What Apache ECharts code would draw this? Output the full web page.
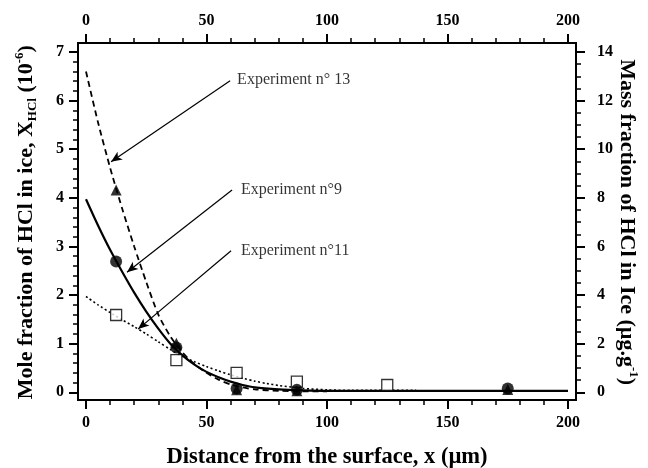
<!DOCTYPE html>
<html>
<head>
<meta charset="utf-8">
<script src="https://cdn.jsdelivr.net/npm/echarts@6/dist/echarts.min.js"></script>
<style>
html,body{margin:0;padding:0;background:#fff;}
#chart{width:648px;height:468px;}
</style>
</head>
<body>
<div id="chart"></div>
<script>
// ---- data ----
const xTickLabels = [0, 50, 100, 150, 200];
const yLeftTicks = [0, 1, 2, 3, 4, 5, 6, 7];
const yRightTicks = [0, 2, 4, 6, 8, 10, 12, 14];

// measured points: [distance µm, mole fraction 1e-6]
const exp9Points  = [[12.5, 2.69], [37.5, 0.92], [62.5, 0.08], [87.5, 0.05], [175, 0.08]];
const exp13Points = [[12.5, 4.16], [37.5, 1.01], [62.5, 0.05], [87.5, 0.03], [175, 0.06]];
const exp11Points = [[12.5, 1.59], [37.5, 0.66], [62.5, 0.40], [87.5, 0.22], [125, 0.15]];

// fitted curves
const exp9CurveX  = [0, 5, 10, 15, 20, 25, 30, 35, 40, 45, 50, 55, 60, 65, 70, 80, 90, 100, 125, 150, 175, 200];
const exp9CurveY  = [3.97, 3.43, 2.93, 2.48, 2.05, 1.66, 1.31, 1.00, 0.76, 0.57, 0.42, 0.31, 0.22, 0.15, 0.10, 0.06, 0.04, 0.03, 0.03, 0.03, 0.03, 0.03];
const exp13CurveX = [0, 5, 10, 15, 20, 25, 30, 35, 40, 45, 50, 55, 60, 65, 70, 80, 90, 100];
const exp13CurveY = [6.60, 5.55, 4.62, 3.78, 3.00, 2.27, 1.60, 1.15, 0.82, 0.58, 0.40, 0.26, 0.16, 0.10, 0.06, 0.03, 0.02, 0.02];
const exp11CurveX = [0, 5, 10, 15, 20, 25, 30, 35, 40, 45, 50, 55, 60, 65, 70, 75, 80, 85, 90, 100, 110, 125, 137];
const exp11CurveY = [1.97, 1.80, 1.64, 1.49, 1.35, 1.20, 1.04, 0.88, 0.74, 0.63, 0.53, 0.44, 0.36, 0.29, 0.23, 0.18, 0.14, 0.11, 0.08, 0.05, 0.04, 0.04, 0.04];

// annotations (data coordinates)
const noteTexts  = ['Experiment n° 13', 'Experiment n°9', 'Experiment n°11'];
const noteTextAt = [[62.7, 6.43], [64.3, 4.16], [64.3, 2.91]];
const arrowFrom  = [[59.8, 6.41], [60.6, 4.16], [60.2, 2.91]];
const arrowTo    = [[10.4, 4.74], [17.0, 2.47], [21.6, 1.30]];

const zip = (xs, ys) => xs.map((x, i) => [x, ys[i]]);

const FONT = "'Liberation Serif', 'Times New Roman', serif";
const chart = echarts.init(document.getElementById('chart'), null, {renderer: 'canvas'});

const tickLabelStyle = {color: '#000', fontFamily: FONT, fontWeight: 'bold', fontSize: 16};

const option = {
  backgroundColor: '#fff',
  animation: false,
  grid: [
    {left: 78, top: 43, width: 498, height: 357, show: true, borderColor: '#000', borderWidth: 2, backgroundColor: 'transparent', outerBoundsMode: 'none', containLabel: false},
    {left: 86, top: 43, width: 482, height: 357, outerBoundsMode: 'none', containLabel: false},
    {left: 78, top: 52, width: 498, height: 340.3, outerBoundsMode: 'none', containLabel: false},
    {left: 86, top: 52, width: 482, height: 340.3, outerBoundsMode: 'none', containLabel: false}
  ],
  xAxis: [
    {gridIndex: 0, type: 'value', show: false, min: 0, max: 1},
    {gridIndex: 1, type: 'value', position: 'bottom', min: 0, max: 200, interval: 50,
      axisLine: {show: false}, splitLine: {show: false},
      axisTick: {show: true, length: 9, lineStyle: {color: '#000', width: 2}},
      minorTick: {show: true, splitNumber: 5, length: 5, lineStyle: {color: '#000', width: 1.5}},
      axisLabel: Object.assign({margin: 15, formatter: v => xTickLabels.includes(v) ? String(v) : ''}, tickLabelStyle),
      name: 'Distance from the surface, x (µm)', nameLocation: 'middle', nameGap: 46, nameMoveOverlap: false,
      nameTextStyle: {color: '#000', fontFamily: FONT, fontWeight: 'bold', fontSize: 22.5}
    },
    {gridIndex: 1, type: 'value', position: 'top', min: 0, max: 200, interval: 50,
      axisLine: {show: false}, splitLine: {show: false},
      axisTick: {show: true, length: 9, lineStyle: {color: '#000', width: 2}},
      minorTick: {show: true, splitNumber: 5, length: 5, lineStyle: {color: '#000', width: 1.5}},
      axisLabel: Object.assign({margin: 14, formatter: v => xTickLabels.includes(v) ? String(v) : ''}, tickLabelStyle)
    },
    {gridIndex: 2, type: 'value', show: false, min: 0, max: 1},
    {gridIndex: 3, type: 'value', show: false, min: 0, max: 200}
  ],
  yAxis: [
    {gridIndex: 0, type: 'value', show: false, min: 0, max: 1},
    {gridIndex: 1, type: 'value', show: false, min: 0, max: 1},
    {gridIndex: 2, type: 'value', position: 'left', min: 0, max: 7, interval: 1,
      axisLine: {show: false}, splitLine: {show: false},
      axisTick: {show: true, length: 9, lineStyle: {color: '#000', width: 2}},
      minorTick: {show: true, splitNumber: 5, length: 5, lineStyle: {color: '#000', width: 1.5}},
      axisLabel: Object.assign({margin: 14, formatter: v => yLeftTicks.includes(v) ? String(v) : ''}, tickLabelStyle),
      name: 'Mole fraction of HCl in ice, X{sub|HCl} (10{sup|-6})', nameLocation: 'middle', nameGap: 39, nameRotate: 90, nameMoveOverlap: false,
      nameTextStyle: {color: '#000', fontFamily: FONT, fontWeight: 'bold', fontSize: 22, lineHeight: 26,
        rich: {
          sub: {fontFamily: FONT, fontWeight: 'bold', fontSize: 13, lineHeight: 13, verticalAlign: 'bottom', color: '#000'},
          sup: {fontFamily: FONT, fontWeight: 'bold', fontSize: 13, lineHeight: 13, verticalAlign: 'top', color: '#000'}
        }}
    },
    {gridIndex: 2, type: 'value', position: 'right', min: 0, max: 14, interval: 2,
      axisLine: {show: false}, splitLine: {show: false},
      axisTick: {show: true, length: 9, lineStyle: {color: '#000', width: 2}},
      minorTick: {show: true, splitNumber: 4, length: 5, lineStyle: {color: '#000', width: 1.5}},
      axisLabel: Object.assign({margin: 21, formatter: v => yRightTicks.includes(v) ? String(v) : ''}, tickLabelStyle),
      name: 'Mass fraction of HCl in Ice (µg.g{sup|-1})', nameLocation: 'middle', nameGap: 38, nameRotate: -90, nameMoveOverlap: false,
      nameTextStyle: {color: '#000', fontFamily: FONT, fontWeight: 'bold', fontSize: 22, lineHeight: 26,
        rich: {
          sup: {fontFamily: FONT, fontWeight: 'bold', fontSize: 13, lineHeight: 13, verticalAlign: 'top', color: '#000'}
        }}
    },
    {gridIndex: 3, type: 'value', show: false, min: 0, max: 7}
  ],
  series: [
    {type: 'line', name: 'fit 11', xAxisIndex: 4, yAxisIndex: 4, data: zip(exp11CurveX, exp11CurveY),
      showSymbol: false, smooth: 0.25, clip: false,
      lineStyle: {color: '#000', width: 1.6, type: [2, 2.5]}, z: 2},
    {type: 'line', name: 'fit 13', xAxisIndex: 4, yAxisIndex: 4, data: zip(exp13CurveX, exp13CurveY),
      showSymbol: false, smooth: 0.25, clip: false,
      lineStyle: {color: '#000', width: 1.8, type: [6, 4]}, z: 2},
    {type: 'line', name: 'fit 9', xAxisIndex: 4, yAxisIndex: 4, data: zip(exp9CurveX, exp9CurveY),
      showSymbol: false, smooth: 0.25, clip: false,
      lineStyle: {color: '#000', width: 2.2, type: 'solid'}, z: 2},
    {type: 'scatter', name: 'Experiment 11', xAxisIndex: 4, yAxisIndex: 4, data: exp11Points,
      symbol: 'rect', symbolSize: 11, itemStyle: {color: '#fff', borderColor: '#000', borderWidth: 1.3}, z: 5},
    {type: 'scatter', name: 'Experiment 13', xAxisIndex: 4, yAxisIndex: 4, data: exp13Points,
      symbol: 'triangle', symbolSize: 11, itemStyle: {color: '#000'}, z: 6},
    {type: 'scatter', name: 'Experiment 9', xAxisIndex: 4, yAxisIndex: 4, data: exp9Points,
      symbol: 'circle', symbolSize: 12, itemStyle: {color: '#000'}, z: 7},
    {type: 'scatter', name: 'notes', xAxisIndex: 4, yAxisIndex: 4, clip: false,
      data: noteTextAt.map((p, i) => ({value: p, label: {formatter: noteTexts[i]}})),
      symbolSize: 0, silent: true, z: 8,
      label: {show: true, position: 'right', distance: 0, color: '#000', fontFamily: FONT, fontSize: 16},
      markLine: {
        silent: true, symbol: ['none', 'arrow'], symbolSize: [7, 11], precision: 4,
        lineStyle: {color: '#000', width: 1.2, type: 'solid'},
        label: {show: false},
        emphasis: {disabled: true},
        data: arrowFrom.map((p, i) => [{coord: p}, {coord: arrowTo[i]}])
      }
    }
  ]
};
chart.setOption(option);
</script>
</body>
</html>
